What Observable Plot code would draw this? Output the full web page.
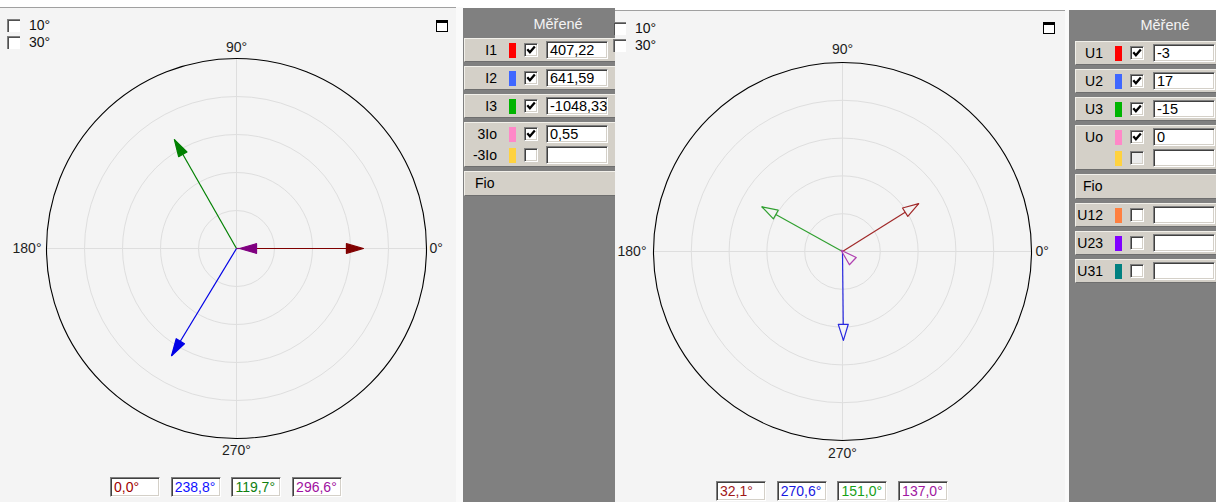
<!DOCTYPE html>
<html><head><meta charset="utf-8">
<script src="https://cdn.jsdelivr.net/npm/d3@7"></script>
<script src="https://cdn.jsdelivr.net/npm/@observablehq/plot@0.6"></script>
<style>
body{margin:0;width:1216px;height:502px;overflow:hidden;background:#fff;font-family:"Liberation Sans",Arial,sans-serif;font-size:14px;position:relative;color:#000}
.abs{position:absolute;box-sizing:border-box}
.plotarea{background:#f4f4f4;border-top:1px solid #a0a0a0}
.strip{background:#fafafa}
.sidebar{background:#808080;overflow:hidden}
.row{background:#d4d0c8;border-top:1px solid #f2f0ea;border-left:1px solid #f2f0ea;border-bottom:1px solid #6e6e6e;border-right:1px solid #6e6e6e}
.sunk{background:#fff;border-top:1px solid #808080;border-left:1px solid #808080;border-bottom:1px solid #fff;border-right:1px solid #fff;box-shadow:inset 1px 1px 0 #404040, inset -1px -1px 0 #d4d0c8}
.tb{font-size:14.5px;padding-left:3px;line-height:16px;white-space:nowrap;overflow:hidden}
.lbl{white-space:nowrap}
.opt{width:13px;height:13px;background:#fff;border-top:1px solid #808080;border-left:1px solid #808080;box-shadow:inset 1px 1px 0 #505050}
.max{width:12px;height:12px;background:#fff;border:1px solid #000;border-top:3px solid #000}
</style>
</head><body>
<script>
// ---------- shared polar grid ----------
const axisAngles = [0, 90, 180, 270];
const axisLabels = ["0°", "90°", "180°", "270°"];
const gridRings = [1, 2, 3, 4];
const outerRing = [5];
const optionLabels = ["10°", "30°"];

// ---------- left diagram: currents ----------
const currentNames = ["I1", "I2", "I3", "3Io"];
const currentAngles = [0.0, 238.8, 119.7, 180.0];      // drawn direction (deg)
const currentMagnitudes = [3.34, 3.30, 3.30, -0.08];   // in ring units
const currentLineColors = ["#800000", "#0000e6", "#008000", "#800080"];
const currentReadouts = ["0,0°", "238,8°", "119,7°", "296,6°"];
const currentReadoutColors = ["#a00000", "#1010ff", "#108010", "#a010a0"];

const currentRowLabels = ["I1", "I2", "I3", "3Io", "-3Io"];
const currentSwatches = ["#ff0000", "#3f67ff", "#00b400", "#ff88c8", "#ffd23f"];
const currentChecks = ["on", "on", "on", "on", "off"];
const currentValues = ["407,22", "641,59", "-1048,33", "0,55", ""];
const currentGroups = [[0], [1], [2], [3, 4], "Fio"];

// ---------- right diagram: voltages ----------
const voltageNames = ["U1", "U2", "U3", "Uo"];
const voltageAngles = [32.1, 270.6, 151.0, 137.0];
const voltageMagnitudes = [2.38, 2.35, 2.44, 0.05];
const voltageLineColors = ["#a02828", "#2828e0", "#30a030", "#b040b0"];
const voltageReadouts = ["32,1°", "270,6°", "151,0°", "137,0°"];
const voltageReadoutColors = ["#a01818", "#1818e0", "#18a018", "#a018a0"];

const voltageRowLabels = ["U1", "U2", "U3", "Uo", "", "U12", "U23", "U31"];
const voltageSwatches = ["#ff0000", "#3f67ff", "#00b400", "#ff88c8", "#ffd23f", "#ff8040", "#8000ff", "#008080"];
const voltageChecks = ["on", "on", "on", "on", "disabled", "off", "off", "off"];
const voltageValues = ["-3", "17", "-15", "0", "", "", "", ""];
const voltageGroups = [[0], [1], [2], [3, 4], "Fio", [5], [6], [7]];

const sideTitle = "Měřené";
const fioLabel = "Fio";

// ---------- helpers ----------
function el(cls, css, parent, html) {
  const d = document.createElement("div");
  d.className = "abs " + cls;
  Object.assign(d.style, css);
  if (html !== undefined) d.innerHTML = html;
  (parent || document.body).appendChild(d);
  return d;
}
const px = v => v + "px";
const CHECK = '<svg width="12" height="12" style="position:absolute;left:0;top:0"><path d="M2.3 5.3 L4.9 8.2 L9.8 2.6" stroke="#000" stroke-width="2.3" fill="none"/></svg>';

function phasorPlot(o) {
  const rad = a => a * Math.PI / 180;
  const ph = o.names.map((n, i) => {
    const a = o.angles[i], m = o.mags[i];
    return {name: n, a, color: o.colors[i], x: m * Math.cos(rad(a)), y: m * Math.sin(rad(a))};
  });
  const L = o.headLen / o.u, W = o.headHalf / o.u;
  const heads = [];
  ph.forEach(p => {
    const dx = Math.cos(rad(p.a)), dy = Math.sin(rad(p.a));
    const bx = p.x - dx * L, by = p.y - dy * L;
    heads.push({name: p.name, color: p.color, x: p.x, y: p.y});
    heads.push({name: p.name, color: p.color, x: bx - dy * W, y: by + dx * W});
    heads.push({name: p.name, color: p.color, x: bx + dy * W, y: by - dx * W});
  });
  const R = outerRing[0];
  const axes = axisAngles.map((a, i) => ({a, label: axisLabels[i], x: R * Math.cos(rad(a)), y: R * Math.sin(rad(a))}));
  const lab = (ang, opts) => Plot.text(axes.filter(d => d.a === ang), {x: "x", y: "y", text: "label", fill: "#1e1e1e", fontSize: 14, ...opts});
  const svg = Plot.plot({
    width: o.width, height: o.height, margin: 0,
    x: {domain: [-o.cx / o.u, (o.width - o.cx) / o.u], axis: null},
    y: {domain: [-(o.height - o.cy) / o.u, o.cy / o.u], axis: null},
    r: {type: "linear", domain: [0, 1], range: [0, o.u]},
    color: {type: "identity"},
    style: {background: "transparent", fontFamily: '"Liberation Sans", Arial, sans-serif', overflow: "visible"},
    marks: [
      Plot.dot(gridRings, {x: () => 0, y: () => 0, r: d => d, stroke: "#dedede", fill: "none", strokeWidth: 1}),
      Plot.link(axes, {x1: () => 0, y1: () => 0, x2: "x", y2: "y", stroke: "#dedede", strokeWidth: 1}),
      Plot.dot(outerRing, {x: () => 0, y: () => 0, r: d => d, stroke: "#000", fill: "none", strokeWidth: 1.1}),
      Plot.link(ph, {x1: () => 0, y1: () => 0, x2: "x", y2: "y", stroke: "color", strokeWidth: 1.2}),
      Plot.line(heads, {x: "x", y: "y", z: "name", stroke: "color", fill: o.hollow ? "#f4f4f4" : "color", strokeWidth: 1.2, curve: "linear-closed"}),
      lab(90, {dy: o.dTop}),
      lab(270, {dy: o.dBottom}),
      lab(0, {dx: o.dRight, textAnchor: "start"}),
      lab(180, {dx: o.dLeft, textAnchor: "end"})
    ]
  });
  svg.style.position = "absolute";
  svg.style.left = px(o.left);
  svg.style.top = px(o.top);
  document.body.appendChild(svg);
}

function panelChrome(c) {
  el("plotarea", {left: px(c.x), top: px(c.y), width: px(c.w), height: px(502 - c.y)});
  el("strip", {left: px(c.x + c.w), top: px(c.y), width: px(c.stripW), height: px(502 - c.y)});
}

function options(c) {
  optionLabels.forEach((t, i) => {
    el("opt", {left: px(c.x), top: px(c.y + i * 17)});
    el("lbl", {left: px(c.x + 22), top: px(c.y + i * 17 - 2), lineHeight: "16px", fontSize: "14px", color: "#111"}, null, t);
  });
  el("max", {left: px(c.mx), top: px(c.my)});
}

function readouts(texts, colors, c) {
  texts.forEach((t, i) => {
    el("sunk", {left: px(c.x + i * 60.7), top: px(c.y), width: "50px", height: "20px", color: colors[i],
      paddingLeft: "3px", lineHeight: "18px", fontSize: "14px", whiteSpace: "nowrap", overflow: "hidden"}, null, t);
  });
}

function sidebar(c) {
  const sb = el("sidebar", {left: px(c.x), top: px(c.y), width: px(c.w), height: px(502 - c.y)});
  el("lbl", {left: px(c.titleX - 40), top: px(c.titleY - 9), width: "80px", textAlign: "center", lineHeight: "18px", fontSize: "14.5px", color: "#f4f4f4"}, sb, sideTitle);
  let y = c.rowsTop;
  c.groups.forEach(g => {
    const fio = g === "Fio";
    const h = fio ? 25 : 24 + 21 * (g.length - 1);
    const row = el("row", {left: px(c.rowX), top: px(y), width: px(c.rowW), height: px(h)}, sb);
    if (fio) {
      el("lbl", {left: px(c.fioX), top: "1px", lineHeight: "21px", fontSize: "14px"}, row, fioLabel);
    } else {
      g.forEach((idx, k) => {
        const ly = 1 + k * 21;
        el("lbl", {left: "0px", width: px(c.labelRight), top: px(ly), lineHeight: "20px", textAlign: "right", fontSize: "14px"}, row, c.labels[idx]);
        el("", {left: px(c.swX), top: px(ly + 3), width: "7px", height: "15px", background: c.swatches[idx]}, row);
        el("sunk", {left: px(c.cbX), top: px(ly + 3), width: "14px", height: "14px",
          background: c.checks[idx] === "disabled" ? "#ececec" : "#fff"}, row, c.checks[idx] === "on" ? CHECK : "");
        el("sunk tb", {left: px(c.tbX), top: px(ly + 1), width: px(c.tbW), height: "18px"}, row, c.values[idx]);
      });
    }
    y += h + 4;
  });
}

// ---------- left panel ----------
panelChrome({x: 0, y: 7, w: 456, stripW: 7});
phasorPlot({names: currentNames, angles: currentAngles, mags: currentMagnitudes, colors: currentLineColors,
  u: 38, width: 470, height: 460, cx: 235, cy: 230, left: 1, top: 18,
  headLen: 17, headHalf: 4.8, hollow: false, dTop: -11, dBottom: 12, dRight: 3, dLeft: -5});
options({x: 7, y: 19, mx: 436, my: 20});
readouts(currentReadouts, currentReadoutColors, {x: 110, y: 477});
sidebar({x: 463, y: 8, w: 152, titleX: 95, titleY: 16, rowsTop: 30, rowX: 1, rowW: 170,
  labelRight: 32, swX: 44, cbX: 59, tbX: 81, tbW: 62, fioX: 10,
  groups: currentGroups, labels: currentRowLabels, swatches: currentSwatches, checks: currentChecks, values: currentValues});

// ---------- right panel ----------
panelChrome({x: 615, y: 10, w: 450, stripW: 4});
phasorPlot({names: voltageNames, angles: voltageAngles, mags: voltageMagnitudes, colors: voltageLineColors,
  u: 37.8, width: 460, height: 460, cx: 230, cy: 230, left: 612, top: 21,
  headLen: 16, headHalf: 5, hollow: true, dTop: -13, dBottom: 13, dRight: 4, dLeft: -7});
options({x: 613, y: 22, mx: 1043, my: 22});
readouts(voltageReadouts, voltageReadoutColors, {x: 716, y: 481});
sidebar({x: 1069, y: 10, w: 147, titleX: 96, titleY: 15, rowsTop: 31, rowX: 6, rowW: 160,
  labelRight: 27, swX: 39, cbX: 54, tbX: 77, tbW: 62, fioX: 7,
  groups: voltageGroups, labels: voltageRowLabels, swatches: voltageSwatches, checks: voltageChecks, values: voltageValues});
</script>
</body></html>
